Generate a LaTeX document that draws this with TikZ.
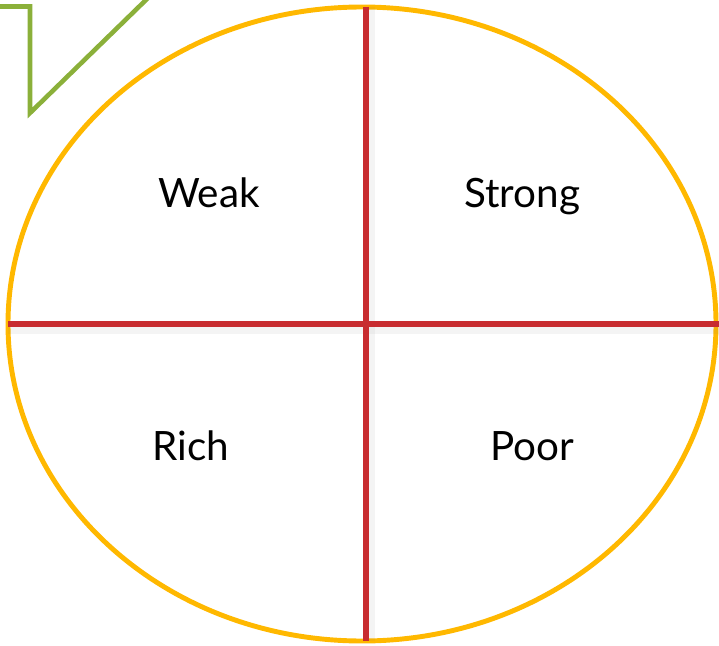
\documentclass[tikz,border=0pt]{standalone}
\usepackage{fontspec}
\setmainfont{Lato}
\usetikzlibrary{positioning,calc}
\definecolor{ovalclr}{RGB}{255,184,0}
\definecolor{axisclr}{RGB}{200,44,48}
\definecolor{callclr}{RGB}{139,176,58}
\definecolor{shadeclr}{RGB}{120,120,120}
\tikzset{
  oval/.style={draw=ovalclr,line width=2.8pt},
  axis/.style={draw=axisclr,line width=3.3pt},
  axshade/.style={draw=shadeclr,line width=7pt,opacity=0.08},
  callout/.style={draw=callclr,line width=2.6pt,miter limit=10},
  qlbl/.style={font=\fontsize{23}{27}\selectfont,text=black,inner sep=0pt,anchor=base},
}

\begin{document}
\begin{tikzpicture}[x=0.02cm,y=-0.02cm]
  \useasboundingbox (0,0) rectangle (719,645);
  \clip (0,0) rectangle (719,645);
  % callout corner
  \draw[callout] (-5,6.5) -- (30,6.5) -- (30,113) -- (150,-4);
  % oval
  \draw[oval] (362,324) ellipse [x radius=354, y radius=317];
  % axis ends
  \coordinate (top) at (366,7);
  \coordinate (bot) at (366,641);
  \coordinate (lft) at (8,324);
  \coordinate (rgt) at (719,324);
  % soft shade under the axes
  \draw[axshade] ($(top)+(3,0)$) -- ($(bot)+(3,0)$);
  \draw[axshade] ($(lft)+(0,4)$) -- ($(rgt)+(0,4)$);
  \draw[axis] (top) -- (bot);
  \draw[axis] (lft) -- (rgt);
  % quadrant labels
  \node[qlbl] (weak) at (209,207) {Weak};
  \node[qlbl] (strong) at (522,207) {Strong};
  \node[qlbl] (rich) at (191,460) {Rich};
  \node[qlbl] (poor) at (532,460) {Poor};
\end{tikzpicture}
\end{document}
